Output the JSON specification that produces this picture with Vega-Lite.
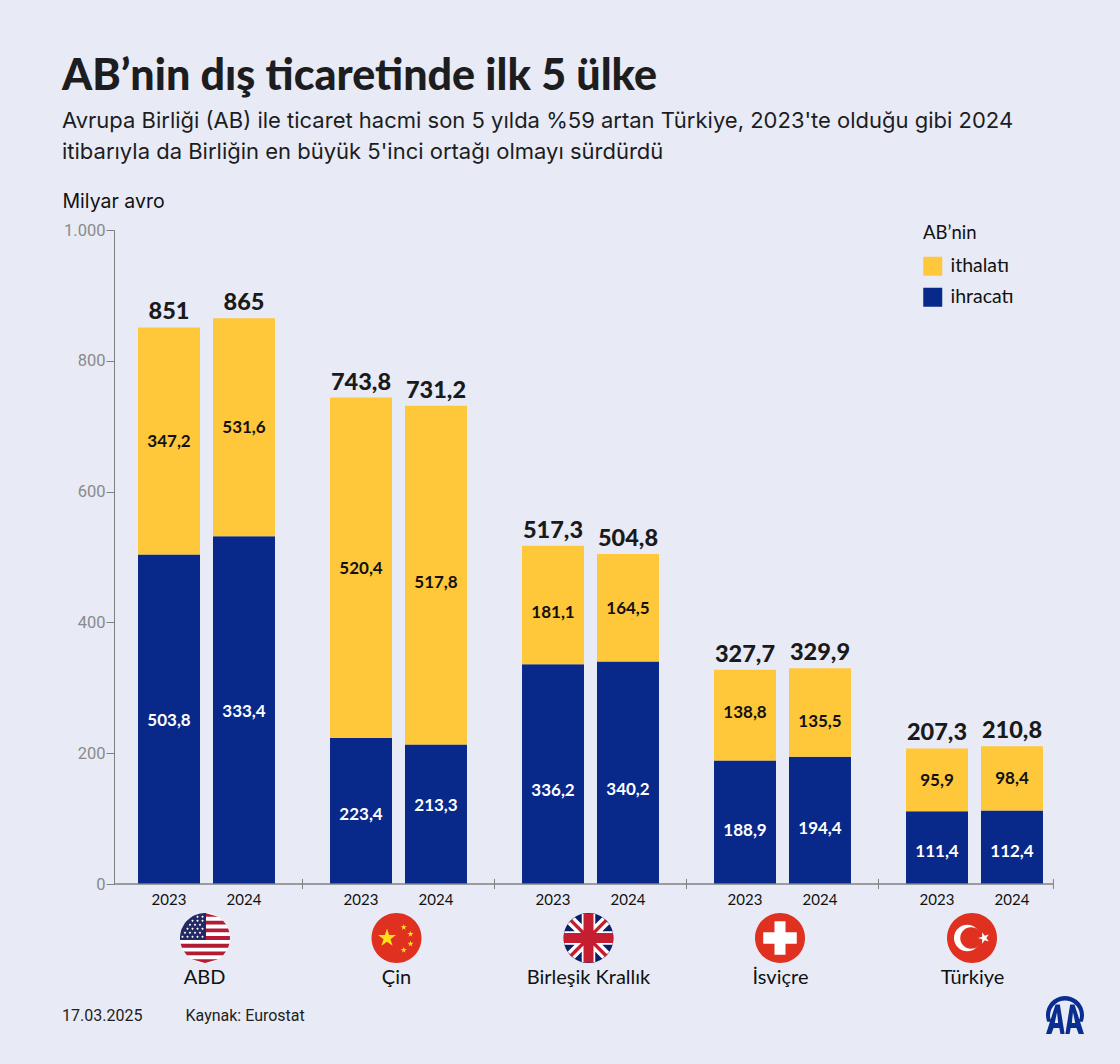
{
"$schema":"https://vega.github.io/schema/vega-lite/v6.json",
"width":939,"height":654,
"autosize":{"type":"none"},
"padding":{"left":114,"top":230,"right":67,"bottom":180},
"background":"#E8EBF6",
"config":{"view":{"stroke":null},"locale":{"number":{"decimal":",","thousands":".","grouping":[3],"currency":["","₺"]}},"font":"Inter"},
"title":{"text":"AB’nin dış ticaretinde ilk 5 ülke","subtitle":["Avrupa Birliği (AB) ile ticaret hacmi son 5 yılda %59 artan Türkiye, 2023'te olduğu gibi 2024","itibarıyla da Birliğin en büyük 5'inci ortağı olmayı sürdürdü"],"anchor":"start","frame":"group","dx":-52,"offset":28,"font":"Lato","fontSize":43,"fontWeight":900,"color":"#1d1d1f","subtitleFont":"Inter","subtitleFontSize":22,"subtitleLineHeight":31,"subtitleColor":"#1d1d1f","subtitlePadding":12},
"datasets":{
"bars":[
{"ulke":"ABD","yil":"2023","tur":"ihracatı","deger":503.8,"etiket":503.8},
{"ulke":"ABD","yil":"2023","tur":"ithalatı","deger":347.2,"etiket":347.2},
{"ulke":"ABD","yil":"2024","tur":"ihracatı","deger":531.6,"etiket":333.4},
{"ulke":"ABD","yil":"2024","tur":"ithalatı","deger":333.4,"etiket":531.6},
{"ulke":"Çin","yil":"2023","tur":"ihracatı","deger":223.4,"etiket":223.4},
{"ulke":"Çin","yil":"2023","tur":"ithalatı","deger":520.4,"etiket":520.4},
{"ulke":"Çin","yil":"2024","tur":"ihracatı","deger":213.3,"etiket":213.3},
{"ulke":"Çin","yil":"2024","tur":"ithalatı","deger":517.8,"etiket":517.8},
{"ulke":"Birleşik Krallık","yil":"2023","tur":"ihracatı","deger":336.2,"etiket":336.2},
{"ulke":"Birleşik Krallık","yil":"2023","tur":"ithalatı","deger":181.1,"etiket":181.1},
{"ulke":"Birleşik Krallık","yil":"2024","tur":"ihracatı","deger":340.2,"etiket":340.2},
{"ulke":"Birleşik Krallık","yil":"2024","tur":"ithalatı","deger":164.5,"etiket":164.5},
{"ulke":"İsviçre","yil":"2023","tur":"ihracatı","deger":188.9,"etiket":188.9},
{"ulke":"İsviçre","yil":"2023","tur":"ithalatı","deger":138.8,"etiket":138.8},
{"ulke":"İsviçre","yil":"2024","tur":"ihracatı","deger":194.4,"etiket":194.4},
{"ulke":"İsviçre","yil":"2024","tur":"ithalatı","deger":135.5,"etiket":135.5},
{"ulke":"Türkiye","yil":"2023","tur":"ihracatı","deger":111.4,"etiket":111.4},
{"ulke":"Türkiye","yil":"2023","tur":"ithalatı","deger":95.9,"etiket":95.9},
{"ulke":"Türkiye","yil":"2024","tur":"ihracatı","deger":112.4,"etiket":112.4},
{"ulke":"Türkiye","yil":"2024","tur":"ithalatı","deger":98.4,"etiket":98.4}
],
"toplam":[
{"ulke":"ABD","yil":"2023","toplam":851},
{"ulke":"ABD","yil":"2024","toplam":865},
{"ulke":"Çin","yil":"2023","toplam":743.8},
{"ulke":"Çin","yil":"2024","toplam":731.2},
{"ulke":"Birleşik Krallık","yil":"2023","toplam":517.3},
{"ulke":"Birleşik Krallık","yil":"2024","toplam":504.8},
{"ulke":"İsviçre","yil":"2023","toplam":327.7},
{"ulke":"İsviçre","yil":"2024","toplam":329.9},
{"ulke":"Türkiye","yil":"2023","toplam":207.3},
{"ulke":"Türkiye","yil":"2024","toplam":210.8}
],
"one":[{"a":1}],
"footer":[{"metin":"17.03.2025"}],
"footer2":[{"metin":"Kaynak: Eurostat"}],
"ayrac":[{"ulke":"ABD"},{"ulke":"Çin"},{"ulke":"Birleşik Krallık"},{"ulke":"İsviçre"}]
},
"layer":[
{"data":{"name":"bars"},"mark":{"type":"bar"},
"encoding":{
"x":{"field":"ulke","type":"nominal","sort":null,"title":null,
"scale":{"domain":["ABD","Çin","Birleşik Krallık","İsviçre","Türkiye"],"range":[-3.5,956.5],"paddingInner":0,"paddingOuter":0},
"axis":{"domain":false,"ticks":false,"labelAngle":0,"labelPadding":83,"labelOffset":-2,"labelFont":"Lato","labelFontSize":20,"labelColor":"#111","labelLimit":300}},
"xOffset":{"field":"yil","type":"nominal","scale":{"paddingInner":0.1733,"paddingOuter":0.367}},
"y":{"field":"deger","type":"quantitative","stack":"zero",
"scale":{"domain":[0,1000],"nice":false},
"axis":{"title":"Milyar avro","titleAngle":0,"titleX":-52,"titleY":-23,"titleAlign":"left","titleBaseline":"alphabetic","titleFont":"Inter","titleFontSize":19.5,"titleFontWeight":400,"titleColor":"#111","values":[0,200,400,600,800,1000],"format":",d","grid":false,"tickSize":8,"tickColor":"#808080","domainColor":"#808080","labelColor":"#8a8a8a","labelFont":"Roboto","labelFontSize":16.5,"labelPadding":1}},
"color":{"field":"tur","type":"nominal","scale":{"domain":["ithalatı","ihracatı"],"range":["#FFC73A","#08288A"]},
"legend":{"title":"AB’nin","orient":"none","legendX":809,"legendY":-6,"symbolType":"square","symbolSize":361,"symbolStrokeWidth":0,"titleFont":"Lato","titleFontSize":18.5,"titleFontWeight":400,"titleColor":"#111","titlePadding":14,"labelFont":"Lato","labelFontSize":19.5,"labelColor":"#111","rowPadding":10,"labelOffset":8}},
"order":{"field":"tur","sort":"ascending"}
}},

{"data":{"name":"bars"},"transform":[{"filter":"datum.tur==='ihracatı' && datum.ulke==='ABD'"}],"mark":{"type":"text","fontWeight":700,"fontSize":17,"font":"Lato","color":"#ffffff","dy":2},
"encoding":{"x":{"field":"ulke","type":"nominal","sort":null},"xOffset":{"field":"yil","type":"nominal"},"y":{"field":"deger","type":"quantitative","stack":"zero","bandPosition":0.5},"text":{"field":"etiket","type":"quantitative","format":",.1f"}}},
{"data":{"name":"bars"},"transform":[{"filter":"datum.tur==='ihracatı' && ((datum.ulke==='Çin' && datum.yil==='2023') || datum.ulke==='Türkiye')"}],"mark":{"type":"text","fontWeight":700,"fontSize":17,"font":"Lato","color":"#ffffff","dy":4.5},
"encoding":{"x":{"field":"ulke","type":"nominal","sort":null},"xOffset":{"field":"yil","type":"nominal"},"y":{"field":"deger","type":"quantitative","stack":"zero","bandPosition":0.5},"text":{"field":"etiket","type":"quantitative","format":",.1f"}}},
{"data":{"name":"bars"},"transform":[{"filter":"datum.tur==='ihracatı' && datum.ulke==='Çin' && datum.yil==='2024'"}],"mark":{"type":"text","fontWeight":700,"fontSize":17,"font":"Lato","color":"#ffffff","dy":-8},
"encoding":{"x":{"field":"ulke","type":"nominal","sort":null},"xOffset":{"field":"yil","type":"nominal"},"y":{"field":"deger","type":"quantitative","stack":"zero","bandPosition":0.5},"text":{"field":"etiket","type":"quantitative","format":",.1f"}}},
{"data":{"name":"bars"},"transform":[{"filter":"datum.tur==='ihracatı' && datum.ulke==='Birleşik Krallık'"}],"mark":{"type":"text","fontWeight":700,"fontSize":17,"font":"Lato","color":"#ffffff","dy":17},
"encoding":{"x":{"field":"ulke","type":"nominal","sort":null},"xOffset":{"field":"yil","type":"nominal"},"y":{"field":"deger","type":"quantitative","stack":"zero","bandPosition":0.5},"text":{"field":"etiket","type":"quantitative","format":",.1f"}}},
{"data":{"name":"bars"},"transform":[{"filter":"datum.tur==='ihracatı' && datum.ulke==='İsviçre'"}],"mark":{"type":"text","fontWeight":700,"fontSize":17,"font":"Lato","color":"#ffffff","dy":8.5},
"encoding":{"x":{"field":"ulke","type":"nominal","sort":null},"xOffset":{"field":"yil","type":"nominal"},"y":{"field":"deger","type":"quantitative","stack":"zero","bandPosition":0.5},"text":{"field":"etiket","type":"quantitative","format":",.1f"}}},

{"data":{"name":"bars"},"transform":[{"filter":"datum.ulke==='ABD' || datum.ulke==='Türkiye' || (datum.ulke==='Çin' && datum.yil==='2023') || (datum.ulke==='Birleşik Krallık' && datum.yil==='2024')"}],"mark":{"type":"text","fontWeight":700,"fontSize":17,"font":"Lato","color":"#111111","dy":1},
"encoding":{"x":{"field":"ulke","type":"nominal","sort":null},"xOffset":{"field":"yil","type":"nominal"},"y":{"field":"deger","type":"quantitative","stack":"zero","bandPosition":0.5},"detail":{"field":"tur"},"order":{"field":"tur","sort":"ascending"},"text":{"condition":{"test":"datum.tur==='ihracatı'","value":""},"field":"etiket","type":"quantitative","format":",.1f"}}},
{"data":{"name":"bars"},"transform":[{"filter":"(datum.ulke==='Çin' && datum.yil==='2024') || (datum.ulke==='Birleşik Krallık' && datum.yil==='2023')"}],"mark":{"type":"text","fontWeight":700,"fontSize":17,"font":"Lato","color":"#111111","dy":8},
"encoding":{"x":{"field":"ulke","type":"nominal","sort":null},"xOffset":{"field":"yil","type":"nominal"},"y":{"field":"deger","type":"quantitative","stack":"zero","bandPosition":0.5},"detail":{"field":"tur"},"order":{"field":"tur","sort":"ascending"},"text":{"condition":{"test":"datum.tur==='ihracatı'","value":""},"field":"etiket","type":"quantitative","format":",.1f"}}},
{"data":{"name":"bars"},"transform":[{"filter":"datum.ulke==='İsviçre' && datum.yil==='2024'"}],"mark":{"type":"text","fontWeight":700,"fontSize":17,"font":"Lato","color":"#111111","dy":9.5},
"encoding":{"x":{"field":"ulke","type":"nominal","sort":null},"xOffset":{"field":"yil","type":"nominal"},"y":{"field":"deger","type":"quantitative","stack":"zero","bandPosition":0.5},"detail":{"field":"tur"},"order":{"field":"tur","sort":"ascending"},"text":{"condition":{"test":"datum.tur==='ihracatı'","value":""},"field":"etiket","type":"quantitative","format":",.1f"}}},
{"data":{"name":"bars"},"transform":[{"filter":"datum.ulke==='İsviçre' && datum.yil==='2023'"}],"mark":{"type":"text","fontWeight":700,"fontSize":17,"font":"Lato","color":"#111111","dy":-2.5},
"encoding":{"x":{"field":"ulke","type":"nominal","sort":null},"xOffset":{"field":"yil","type":"nominal"},"y":{"field":"deger","type":"quantitative","stack":"zero","bandPosition":0.5},"detail":{"field":"tur"},"order":{"field":"tur","sort":"ascending"},"text":{"condition":{"test":"datum.tur==='ihracatı'","value":""},"field":"etiket","type":"quantitative","format":",.1f"}}},

{"data":{"name":"toplam"},"mark":{"type":"text","fontWeight":900,"fontSize":23.5,"font":"Lato","color":"#1a1a1a","baseline":"alphabetic","dy":-8},
"encoding":{
"x":{"field":"ulke","type":"nominal","sort":null},
"xOffset":{"field":"yil","type":"nominal"},
"y":{"field":"toplam","type":"quantitative"},
"text":{"field":"toplam","type":"quantitative","format":",.1~f"}
}},
{"data":{"name":"toplam"},"mark":{"type":"text","fontSize":15,"font":"Lato","color":"#111","baseline":"middle","dy":16},
"encoding":{
"x":{"field":"ulke","type":"nominal","sort":null},
"xOffset":{"field":"yil","type":"nominal"},
"y":{"datum":0,"type":"quantitative"},
"text":{"field":"yil","type":"nominal"}
}},
{"data":{"name":"one"},"mark":{"type":"rule","color":"#808080","strokeWidth":1.5},"encoding":{"y":{"datum":0,"type":"quantitative"}}},
{"data":{"name":"ayrac"},"mark":{"type":"rule","color":"#808080","strokeWidth":1,"yOffset":-5,"y2Offset":5},
"encoding":{"x":{"field":"ulke","type":"nominal","sort":null,"bandPosition":1},"y":{"datum":0,"type":"quantitative"},"y2":{"datum":0}}},
{"data":{"name":"one"},"mark":{"type":"rule","color":"#808080","strokeWidth":1,"yOffset":-5,"y2Offset":5},
"encoding":{"x":{"datum":"Türkiye","type":"nominal","bandPosition":0.911},"y":{"datum":0,"type":"quantitative"},"y2":{"datum":0}}},

{"data":{"name":"one"},"mark":{"type":"point","filled":true,"opacity":1,"size":2500,"xOffset":-1.5,"yOffset":54,"fill":"#ffffff","stroke":null,"shape":"M-1 0A1 1 0 1 1 1 0A1 1 0 1 1 -1 0Z"},
"encoding":{"x":{"datum":"ABD","type":"nominal"},"y":{"datum":0,"type":"quantitative"}}},
{"data":{"name":"one"},"mark":{"type":"point","filled":true,"opacity":1,"size":2500,"xOffset":-1.5,"yOffset":54,"fill":"#B31B34","stroke":null,"shape":"M0 -1L.533 -.846L-.533 -.846ZM-.722 -.692L.722 -.692L.843 -.538L-.843 -.538ZM-.923 -.385L.923 -.385L.973 -.231L-.973 -.231ZM-.997 -.077L.997 -.077L.997 .077L-.997 .077ZM-.973 .231L.973 .231L.923 .385L-.923 .385ZM-.843 .538L.843 .538L.722 .692L-.722 .692ZM-.533 .846L.533 .846L0 1Z"},
"encoding":{"x":{"datum":"ABD","type":"nominal"},"y":{"datum":0,"type":"quantitative"}}},
{"data":{"name":"one"},"mark":{"type":"point","filled":true,"opacity":1,"size":2500,"xOffset":-1.5,"yOffset":54,"fill":"#232A63","stroke":null,"shape":"M.04 -.999L.04 .077L-.997 .077A1 1 0 0 1 .04 -.999Z"},
"encoding":{"x":{"datum":"ABD","type":"nominal"},"y":{"datum":0,"type":"quantitative"}}},
{"data":{"name":"one"},"mark":{"type":"point","filled":true,"opacity":1,"size":2500,"xOffset":-1.5,"yOffset":54,"fill":"#ffffff","stroke":null,"shape":"M-.3 -.9l.05 .05 -.05 .05 -.05 -.05zM-.1 -.9l.05 .05 -.05 .05 -.05 -.05zM-.5 -.74l.05 .05 -.05 .05 -.05 -.05zM-.3 -.74l.05 .05 -.05 .05 -.05 -.05zM-.1 -.74l.05 .05 -.05 .05 -.05 -.05zM-.6 -.58l.05 .05 -.05 .05 -.05 -.05zM-.4 -.58l.05 .05 -.05 .05 -.05 -.05zM-.2 -.58l.05 .05 -.05 .05 -.05 -.05zM-.7 -.42l.05 .05 -.05 .05 -.05 -.05zM-.5 -.42l.05 .05 -.05 .05 -.05 -.05zM-.3 -.42l.05 .05 -.05 .05 -.05 -.05zM-.1 -.42l.05 .05 -.05 .05 -.05 -.05zM-.8 -.26l.05 .05 -.05 .05 -.05 -.05zM-.6 -.26l.05 .05 -.05 .05 -.05 -.05zM-.4 -.26l.05 .05 -.05 .05 -.05 -.05zM-.2 -.26l.05 .05 -.05 .05 -.05 -.05zM-.9 -.1l.05 .05 -.05 .05 -.05 -.05zM-.7 -.1l.05 .05 -.05 .05 -.05 -.05zM-.5 -.1l.05 .05 -.05 .05 -.05 -.05zM-.3 -.1l.05 .05 -.05 .05 -.05 -.05zM-.1 -.1l.05 .05 -.05 .05 -.05 -.05z"},
"encoding":{"x":{"datum":"ABD","type":"nominal"},"y":{"datum":0,"type":"quantitative"}}},

{"data":{"name":"one"},"mark":{"type":"point","filled":true,"opacity":1,"size":2500,"xOffset":-2,"yOffset":54,"fill":"#DF3020","stroke":null,"shape":"M-1 0A1 1 0 1 1 1 0A1 1 0 1 1 -1 0Z"},
"encoding":{"x":{"datum":"Çin","type":"nominal"},"y":{"datum":0,"type":"quantitative"}}},
{"data":{"name":"one"},"mark":{"type":"point","filled":true,"opacity":1,"size":2500,"xOffset":-2,"yOffset":54,"fill":"#FFE01B","stroke":null,"shape":"M-.38 -.38L-.294 -.117L-.019 -.117L-.242 .045L-.157 .307L-.38 .145L-.603 .307L-.518 .045L-.741 -.117L-.466 -.117ZM.29 -.56l.029 .09 .095 0 -.077 .055 .029 .09 -.076 -.055 -.076 .055 .029 -.09 -.077 -.055 .095 0zM.56 -.29l.029 .09 .095 0 -.077 .055 .029 .09 -.076 -.055 -.076 .055 .029 -.09 -.077 -.055 .095 0zM.56 .1l.029 .09 .095 0 -.077 .055 .029 .09 -.076 -.055 -.076 .055 .029 -.09 -.077 -.055 .095 0zM.29 .35l.029 .09 .095 0 -.077 .055 .029 .09 -.076 -.055 -.076 .055 .029 -.09 -.077 -.055 .095 0z"},
"encoding":{"x":{"datum":"Çin","type":"nominal"},"y":{"datum":0,"type":"quantitative"}}},

{"data":{"name":"one"},"mark":{"type":"point","filled":true,"opacity":1,"size":2500,"xOffset":-2,"yOffset":54,"fill":"#0B1F66","stroke":null,"shape":"M-1 0A1 1 0 1 1 1 0A1 1 0 1 1 -1 0Z"},
"encoding":{"x":{"datum":"Birleşik Krallık","type":"nominal"},"y":{"datum":0,"type":"quantitative"}}},
{"data":{"name":"one"},"mark":{"type":"point","filled":true,"opacity":1,"size":2500,"xOffset":-2,"yOffset":54,"fill":"#ffffff","stroke":null,"shape":"M.834 .552L.552 .834L-.834 -.552L-.552 -.834ZM.552 -.834L.834 -.552L-.552 .834L-.834 .552ZM-.27 -.963L.27 -.963L.27 .963L-.27 .963ZM-.963 -.27L.963 -.27L.963 .27L-.963 .27Z"},
"encoding":{"x":{"datum":"Birleşik Krallık","type":"nominal"},"y":{"datum":0,"type":"quantitative"}}},
{"data":{"name":"one"},"mark":{"type":"point","filled":true,"opacity":1,"size":2500,"xOffset":-2,"yOffset":54,"fill":"#C41E30","stroke":null,"shape":"M.755 .656L.656 .755L-.755 -.656L-.656 -.755ZM.656 -.755L.755 -.656L-.656 .755L-.755 .656ZM-.2 -.98L.2 -.98L.2 .98L-.2 .98ZM-.98 -.2L.98 -.2L.98 .2L-.98 .2Z"},
"encoding":{"x":{"datum":"Birleşik Krallık","type":"nominal"},"y":{"datum":0,"type":"quantitative"}}},

{"data":{"name":"one"},"mark":{"type":"point","filled":true,"opacity":1,"size":2500,"xOffset":-2.5,"yOffset":54,"fill":"#DF3020","stroke":null,"shape":"M-1 0A1 1 0 1 1 1 0A1 1 0 1 1 -1 0Z"},
"encoding":{"x":{"datum":"İsviçre","type":"nominal"},"y":{"datum":0,"type":"quantitative"}}},
{"data":{"name":"one"},"mark":{"type":"point","filled":true,"opacity":1,"size":2500,"xOffset":-2.5,"yOffset":54,"fill":"#ffffff","stroke":null,"shape":"M-.22 -.67L.22 -.67L.22 -.23L.67 -.23L.67 .23L.22 .23L.22 .67L-.22 .67L-.22 .23L-.67 .23L-.67 -.23L-.22 -.23Z"},
"encoding":{"x":{"datum":"İsviçre","type":"nominal"},"y":{"datum":0,"type":"quantitative"}}},

{"data":{"name":"one"},"mark":{"type":"point","filled":true,"opacity":1,"size":2500,"xOffset":-2.5,"yOffset":54,"fill":"#DF3020","stroke":null,"shape":"M-1 0A1 1 0 1 1 1 0A1 1 0 1 1 -1 0Z"},
"encoding":{"x":{"datum":"Türkiye","type":"nominal"},"y":{"datum":0,"type":"quantitative"}}},
{"data":{"name":"one"},"mark":{"type":"point","filled":true,"opacity":1,"size":2500,"xOffset":-2.5,"yOffset":54,"fill":"#ffffff","stroke":null,"shape":"M-.72 0A.53 .53 0 1 1 .34 0A.53 .53 0 1 1 -.72 0Z"},
"encoding":{"x":{"datum":"Türkiye","type":"nominal"},"y":{"datum":0,"type":"quantitative"}}},
{"data":{"name":"one"},"mark":{"type":"point","filled":true,"opacity":1,"size":2500,"xOffset":-2.5,"yOffset":54,"fill":"#DF3020","stroke":null,"shape":"M-.47 0A.43 .43 0 1 1 .39 0A.43 .43 0 1 1 -.47 0Z"},
"encoding":{"x":{"datum":"Türkiye","type":"nominal"},"y":{"datum":0,"type":"quantitative"}}},
{"data":{"name":"one"},"mark":{"type":"point","filled":true,"opacity":1,"size":2500,"xOffset":-2.5,"yOffset":54,"fill":"#ffffff","stroke":null,"shape":"M.24 0L.406 -.054L.406 -.228L.508 -.087L.674 -.141L.572 0L.674 .141L.508 .087L.406 .228L.406 .054Z"},
"encoding":{"x":{"datum":"Türkiye","type":"nominal"},"y":{"datum":0,"type":"quantitative"}}},

{"data":{"name":"one"},"mark":{"type":"point","filled":true,"opacity":1,"size":1444,"xOffset":90.5,"yOffset":131,"fill":"#0A2E8F","stroke":null,"shape":"M-.937 .35A1 1 0 1 1 .937 .35L.72 .35A.79 .79 0 1 0 -.72 .35ZM-1 1L-.5 -.55L-.27 -.55L-.02 1L-.24 1L-.3 .68L-.6 .68L-.72 1ZM-.54 .42L-.36 .42L-.42 -.15ZM.02 1L.27 -.55L.5 -.55L1 1L.72 1L.6 .68L.3 .68L.24 1ZM.36 .42L.54 .42L.42 -.15Z"},
"encoding":{"x":{"datum":"Türkiye","type":"nominal"},"y":{"datum":0,"type":"quantitative"}}},

{"data":{"name":"footer"},"mark":{"type":"text","font":"Roboto","fontSize":16,"color":"#222","align":"left","baseline":"middle","dx":-144.5,"dy":132},
"encoding":{"x":{"datum":"ABD","type":"nominal"},"y":{"datum":0,"type":"quantitative"},"text":{"field":"metin"}}},
{"data":{"name":"footer2"},"mark":{"type":"text","font":"Roboto","fontSize":16,"color":"#222","align":"left","baseline":"middle","dx":-21,"dy":132},
"encoding":{"x":{"datum":"ABD","type":"nominal"},"y":{"datum":0,"type":"quantitative"},"text":{"field":"metin"}}}
]
}
